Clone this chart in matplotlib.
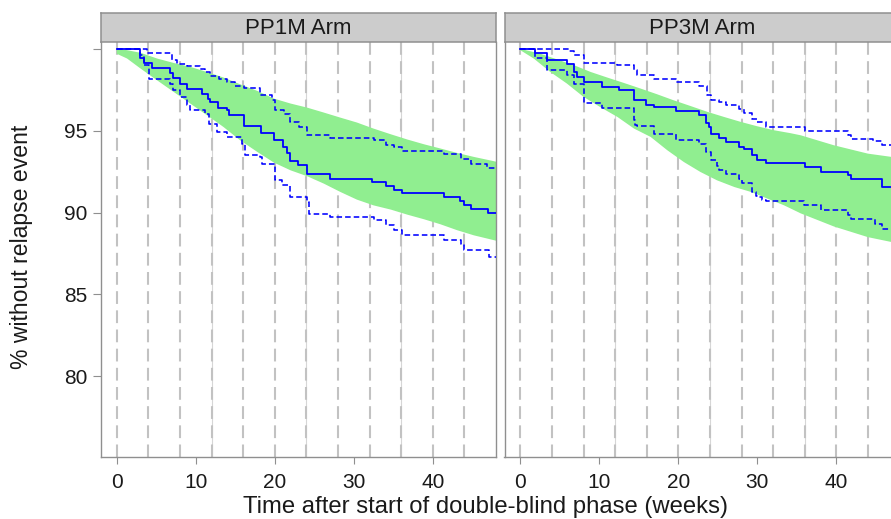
import numpy as np
import matplotlib
matplotlib.use("Agg")
import matplotlib.pyplot as plt

plt.rcParams['font.family'] = ['Liberation Sans', 'DejaVu Sans']
plt.rcParams['lines.scale_dashes'] = False

# ---------------- data ----------------
panels = ["PP1M Arm", "PP3M Arm"]

# PP1M: Kaplan-Meier estimate (%), time in weeks
km1_t = [0, 2.96, 3.47, 4.44, 6.76, 7.10, 7.95, 8.88, 10.78, 11.50, 11.83, 12.76, 13.95, 14.16,
         16.15, 18.26, 19.86, 21.05, 21.56, 21.98, 22.91, 24.09, 27.05, 32.33, 34.02, 35.08,
         36.14, 41.42, 43.45, 43.96, 44.80, 47.00, 48.2]
km1_s = [100, 99.47, 99.14, 98.82, 98.55, 98.23, 97.84, 97.53, 97.27, 96.96, 96.76, 96.41, 96.25,
         95.93, 95.29, 94.87, 94.42, 94.01, 93.64, 93.13, 92.89, 92.38, 92.03, 91.85, 91.61,
         91.36, 91.20, 90.95, 90.69, 90.44, 90.24, 89.99, 89.99]
ci1_up_t = [0, 3.80, 6.97, 7.61, 8.88, 10.57, 11.20, 11.83, 12.89, 13.95, 15.00, 16.06, 18.17,
            19.65, 20.08, 21.13, 21.98, 23.03, 24.09, 27.05, 32.54, 34.02, 35.08, 36.14, 41.42,
            43.53, 44.80, 46.91, 48.2]
ci1_up = [100, 99.76, 99.35, 99.10, 98.96, 98.80, 98.59, 98.33, 98.17, 97.98, 97.72, 97.58, 97.17,
          96.90, 96.25, 96.05, 95.54, 95.23, 94.72, 94.58, 94.42, 94.15, 94.01, 93.77, 93.60,
          93.30, 92.99, 92.73, 92.73]
ci1_lo_t = [0, 2.96, 3.47, 4.02, 6.76, 7.10, 7.95, 8.88, 9.30, 11.20, 11.62, 12.68, 13.95, 15.85,
            16.27, 18.17, 18.39, 20.08, 20.92, 21.98, 24.09, 24.30, 27.05, 32.54, 34.02, 35.08,
            36.14, 41.42, 43.53, 43.96, 47.13, 48.2]
ci1_lo = [100, 99.61, 99.00, 98.15, 97.88, 97.51, 97.03, 96.56, 96.29, 96.05, 95.44, 94.93, 94.62,
          94.21, 93.50, 93.40, 92.95, 91.97, 91.67, 90.95, 90.65, 89.93, 89.73, 89.53, 89.22,
          88.96, 88.61, 88.30, 88.10, 87.73, 87.29, 87.29]
# PP1M: simulated prediction band
band1_hi_t = [0, 1.3, 3.0, 5.1, 7.2, 9.3, 11.4, 13.5, 15.6, 17.8, 19.9, 22.0, 24.1, 26.2, 28.3,
              30.4, 32.5, 34.7, 36.8, 38.9, 41.0, 43.1, 45.2, 48.2]
band1_hi = [100, 99.92, 99.76, 99.41, 99.14, 98.90, 98.59, 98.25, 97.84, 97.43, 96.96, 96.66,
            96.41, 96.11, 95.80, 95.50, 95.13, 94.78, 94.46, 94.17, 93.91, 93.64, 93.40, 93.09]
band1_lo_t = band1_hi_t
band1_lo = [99.70, 99.41, 98.80, 98.08, 97.37, 96.66, 95.95, 95.23, 94.42, 93.70, 93.05, 92.58,
            92.22, 91.77, 91.26, 90.79, 90.44, 90.18, 89.87, 89.59, 89.28, 88.92, 88.61, 88.26]

# PP3M
km2_t = [0, 1.90, 3.38, 5.92, 6.76, 7.19, 8.03, 10.36, 12.47, 14.37, 15.85, 16.91, 19.65, 22.61,
         23.46, 23.88, 24.09, 25.15, 26.00, 27.68, 28.32, 29.37, 30.01, 31.06, 36.10, 38.04,
         41.42, 41.84, 45.80, 48.2]
km2_s = [100, 99.76, 99.35, 99.10, 98.59, 98.29, 97.98, 97.68, 97.51, 96.86, 96.56, 96.45, 96.19,
         95.95, 95.48, 95.23, 94.82, 94.58, 94.32, 94.01, 93.91, 93.50, 93.24, 93.05, 92.79,
         92.48, 92.28, 92.07, 91.56, 91.56]
ci2_up_t = [0, 6.13, 6.76, 8.03, 12.26, 14.37, 14.79, 16.91, 19.65, 22.61, 23.67, 24.09, 25.15,
            26.00, 27.68, 28.32, 29.37, 30.01, 31.06, 36.10, 41.42, 41.84, 44.60, 45.80, 48.2]
ci2_up = [100, 99.88, 99.61, 99.16, 99.00, 98.70, 98.39, 98.15, 97.98, 97.72, 97.17, 96.90, 96.76,
          96.56, 96.35, 96.09, 95.74, 95.54, 95.25, 94.97, 94.72, 94.52, 94.38, 94.11, 94.11]
ci2_lo_t = [0, 1.90, 3.38, 5.92, 6.76, 8.03, 10.36, 14.37, 14.58, 14.79, 16.91, 19.65, 22.61,
            23.46, 24.09, 24.94, 25.15, 26.00, 27.68, 28.11, 29.37, 29.80, 30.01, 30.64, 31.06,
            35.90, 38.04, 41.42, 41.84, 44.90, 45.80, 48.2]
ci2_lo = [100, 99.47, 98.70, 98.39, 97.88, 96.70, 96.41, 95.64, 95.33, 95.27, 94.78, 94.46, 94.21,
          93.70, 93.19, 92.85, 92.58, 92.34, 92.07, 91.81, 91.26, 91.00, 90.95, 90.75, 90.69,
          90.45, 90.14, 89.85, 89.63, 89.32, 89.00, 89.00]
band2_hi_t = [0, 2.5, 4.7, 6.8, 8.9, 11.0, 13.1, 15.2, 17.3, 19.4, 21.6, 23.7, 25.8, 27.9, 30.0,
              32.1, 34.2, 35.5, 39.7, 44.0, 47.0, 48.2]
band2_hi = [100, 99.71, 99.35, 99.00, 98.59, 98.25, 97.92, 97.58, 97.23, 96.86, 96.50, 96.15,
            95.84, 95.54, 95.27, 95.03, 94.85, 94.72, 94.11, 93.60, 93.40, 93.33]
band2_lo_t = [0, 1.7, 3.8, 5.9, 8.0, 10.1, 12.3, 14.4, 16.5, 18.6, 20.7, 22.8, 24.9, 27.1, 29.2,
              31.3, 33.4, 35.5, 39.7, 44.0, 47.0, 48.2]
band2_lo = [99.92, 99.41, 98.59, 97.88, 97.07, 96.45, 95.84, 95.13, 94.62, 93.81, 93.09, 92.48,
            91.97, 91.56, 91.26, 90.85, 90.44, 89.95, 89.15, 88.50, 88.20, 88.10]

ref_weeks = list(range(0, 48, 4))      # dashed reference lines
grid_weeks = [12, 24, 36]              # thin solid lines
x_ticks = [0, 10, 20, 30, 40]
y_ticks = [80, 85, 90, 95, 100]
y_ticklabels = ["80", "85", "90", "95", ""]

# ---------------- figure ----------------
W, H = 891, 519
fig = plt.figure(figsize=(W / 100, H / 100), dpi=100)

def fx(px):
    return px / W

def fy(py):
    return 1 - py / H

top_px, bot_px = 41.5, 456.5
strip_top = 13.5
panel_lefts = [101, 504.5]
panel_w = 395
XLIM = (-2, 48)
YLIM = (75.1, 100.45)
frame_col = '#8f8f8f'
txt_col = '#1a1a1a'

data = [
    (km1_t, km1_s, ci1_up_t, ci1_up, ci1_lo_t, ci1_lo, band1_hi_t, band1_hi, band1_lo_t, band1_lo),
    (km2_t, km2_s, ci2_up_t, ci2_up, ci2_lo_t, ci2_lo, band2_hi_t, band2_hi, band2_lo_t, band2_lo),
]

for i, (name, left) in enumerate(zip(panels, panel_lefts)):
    kt, ks, ut, us, lt, ls, bht, bh, blt, bl = data[i]
    ax = fig.add_axes([fx(left), fy(bot_px), panel_w / W, (bot_px - top_px) / H])
    ax.set_xlim(*XLIM)
    ax.set_ylim(*YLIM)
    for w in grid_weeks:
        ax.axvline(w, color='#d6d6d6', lw=0.8, zorder=1)
    for w in ref_weeks:
        ax.axvline(w, ymin=1, ymax=0, color='#c2c2c2', lw=1.5, linestyle=(0, (9.2, 4.6)), zorder=1.5)
    ax.fill(np.r_[bht, blt[::-1]], np.r_[bh, bl[::-1]], color='#90ee90', lw=0, zorder=2)
    ax.step(ut, us, where='post', color='blue', lw=1.15, linestyle=(0, (4.0, 2.2)), zorder=3)
    ax.step(lt, ls, where='post', color='blue', lw=1.15, linestyle=(0, (4.0, 2.2)), zorder=3)
    ax.step(kt, ks, where='post', color='blue', lw=1.3, zorder=4)

    for s in ax.spines.values():
        s.set_color(frame_col)
        s.set_linewidth(1.0)
    ax.spines['top'].set_visible(False)

    ax.set_xticks(x_ticks)
    ax.set_xticklabels([str(v) for v in x_ticks])
    ax.tick_params(axis='x', direction='out', length=5.2, width=0.8, color=frame_col,
                   labelsize=15, labelcolor=txt_col, pad=6.5)
    if i == 0:
        ax.set_yticks(y_ticks)
        ax.set_yticklabels(y_ticklabels)
        ax.tick_params(axis='y', direction='out', length=5.8, width=0.8, color=frame_col,
                       labelsize=15, labelcolor=txt_col, pad=4.0)
    else:
        ax.set_yticks([])

    # strip
    sax = fig.add_axes([fx(left), fy(top_px), panel_w / W, (top_px - strip_top) / H])
    sax.set_facecolor('#cccccc')
    sax.set_xticks([])
    sax.set_yticks([])
    for s in sax.spines.values():
        s.set_color(frame_col)
        s.set_linewidth(1.1)
    sax.text(0.5, 0.47, name, transform=sax.transAxes, ha='center', va='center',
             fontsize=16, color=txt_col)

fig.text(fx(22), fy(246.5), "% without relapse event", rotation=90, ha='center', va='center',
         fontsize=16.6, color=txt_col)
fig.text(fx(485.5), fy(513.5), "Time after start of double-blind phase (weeks)", ha='center',
         va='baseline', fontsize=17.2, color=txt_col)

fig.savefig("out.png", dpi=100)
